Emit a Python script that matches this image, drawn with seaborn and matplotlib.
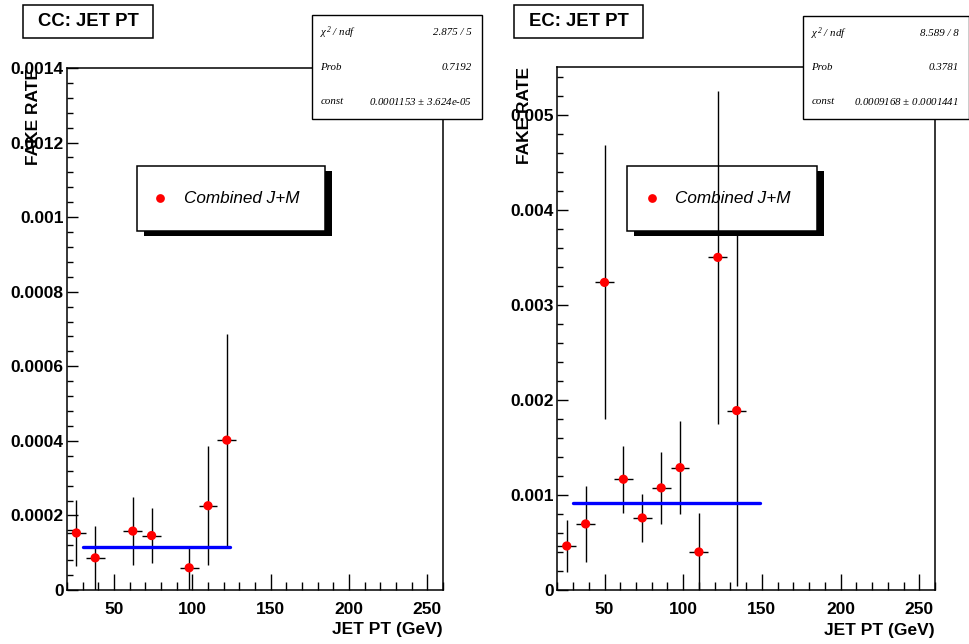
import numpy as np
import pandas as pd
import matplotlib
matplotlib.use("Agg")
import matplotlib.pyplot as plt
from matplotlib.patches import Rectangle
from matplotlib.lines import Line2D
from matplotlib.ticker import MultipleLocator, FuncFormatter
import seaborn as sns

# ---------------- data ----------------
cc_pt = [26, 38, 62, 74, 98, 110, 122]
cc_rate = [0.000153, 0.0000862, 0.000158, 0.000146, 0.0000596, 0.000226, 0.000402]
cc_err = [0.000088, 0.000085, 0.000091, 0.000073, 0.0000584, 0.000159, 0.000285]
cc_fit_const = 0.0001153
cc_fit_range = [30, 124]
cc_stats = [("$\\chi^{2}$ / ndf", "2.875 / 5"), ("Prob", "0.7192"),
            ("const", "0.0001153 $\\pm$ 3.624e-05")]

ec_pt = [26, 38, 50, 62, 74, 86, 98, 110, 122, 134]
ec_rate = [0.000466, 0.000698, 0.003238, 0.001168, 0.000761, 0.001077, 0.00129,
           0.000403, 0.003501, 0.00189]
ec_err = [0.00027, 0.0004, 0.00144, 0.00035, 0.00025, 0.00038, 0.00049,
          0.000407, 0.001747, 0.00185]
ec_fit_const = 0.0009168
ec_fit_range = [30, 149]
ec_stats = [("$\\chi^{2}$ / ndf", "8.589 / 8"), ("Prob", "0.3781"),
            ("const", "0.0009168 $\\pm$ 0.0001441")]

bin_half_width = 6
titles = ["CC: JET PT", "EC: JET PT"]
legend_label = "Combined J+M"
xlabel = "JET PT (GeV)"
ylabel = "FAKE RATE"

# ---------------- style ----------------
sns.set_style("white")
plt.rcParams["font.family"] = ["Liberation Sans", "DejaVu Sans"]
plt.rcParams["mathtext.fontset"] = "custom"
plt.rcParams["mathtext.it"] = "Liberation Serif:italic"
plt.rcParams["mathtext.rm"] = "Liberation Serif:italic"
for k in ["text.color", "axes.labelcolor", "xtick.color", "ytick.color",
          "axes.edgecolor"]:
    plt.rcParams[k] = "black"

W, H = 970, 644
fig = plt.figure(figsize=(W / 100, H / 100), dpi=100)
fig.patch.set_facecolor("white")


def fx(x):
    return x / W


def fy(y):
    return 1 - y / H


def pbox(x0, y0, x1, y1, **kw):
    return Rectangle((fx(x0), fy(y1)), fx(x1) - fx(x0), fy(y0) - fy(y1),
                     transform=fig.transFigure, **kw)


panels = [
    dict(pos=(67, 68, 443, 590), pt=cc_pt, rate=cc_rate, err=cc_err,
         const=cc_fit_const, frange=cc_fit_range, stats=cc_stats,
         ylim=0.0014, ymaj=0.0002, ymin=0.00004, title=titles[0],
         tbox=(23, 5, 153, 38), sbox=(311.7, 15, 481.7, 119.3),
         lbox=(136.7, 165.7, 325, 231), lmark=(160, 198.3), ltext=184,
         yfmt=lambda v, p: "0" if abs(v) < 1e-12 else f"{v:.4f}".rstrip("0")),
    dict(pos=(557.3, 67.3, 935, 590.3), pt=ec_pt, rate=ec_rate, err=ec_err,
         const=ec_fit_const, frange=ec_fit_range, stats=ec_stats,
         ylim=0.0055, ymaj=0.001, ymin=0.0002, title=titles[1],
         tbox=(514, 5, 643, 38), sbox=(802.7, 15.7, 968.5, 119.3),
         lbox=(627.3, 165.7, 816.7, 231), lmark=(651.7, 198.3), ltext=675,
         yfmt=lambda v, p: "0" if abs(v) < 1e-12 else f"{v:.3f}"),
]

for P in panels:
    x0, y0, x1, y1 = P["pos"]
    ax = fig.add_axes([fx(x0), fy(y1), fx(x1) - fx(x0), fy(y0) - fy(y1)])
    df = pd.DataFrame({"pt": P["pt"], "rate": P["rate"], "err": P["err"]})

    ax.errorbar(df["pt"], df["rate"], yerr=df["err"], xerr=bin_half_width,
                fmt="none", ecolor="black", elinewidth=1.0, capsize=0, zorder=2)
    sns.scatterplot(data=df, x="pt", y="rate", ax=ax, color="red", s=44,
                    edgecolor="none", linewidth=0, zorder=4, legend=False)
    fit = pd.DataFrame({"pt": P["frange"], "rate": [P["const"]] * 2})
    sns.lineplot(data=fit, x="pt", y="rate", ax=ax, color="#0000ff",
                 linewidth=2.4, zorder=3)

    ax.set_xlim(20, 260)
    ax.set_ylim(0, P["ylim"])
    ax.xaxis.set_major_locator(MultipleLocator(50))
    ax.xaxis.set_minor_locator(MultipleLocator(10))
    ax.yaxis.set_major_locator(MultipleLocator(P["ymaj"]))
    ax.yaxis.set_minor_locator(MultipleLocator(P["ymin"]))
    ax.yaxis.set_major_formatter(FuncFormatter(P["yfmt"]))
    ax.tick_params(axis="x", which="major", direction="in", length=11.5,
                   width=1.0, pad=8.5, labelsize=12.5, bottom=True, top=False,
                   color="black", labelcolor="black")
    ax.tick_params(axis="x", which="minor", direction="in", length=5.8,
                   width=1.0, bottom=True, top=False, color="black")
    ax.tick_params(axis="y", which="major", direction="in", length=8,
                   width=1.0, pad=2.5, labelsize=12.5, left=True, right=False,
                   color="black", labelcolor="black")
    ax.tick_params(axis="y", which="minor", direction="in", length=4,
                   width=1.0, left=True, right=False, color="black")
    for lab in ax.get_xticklabels() + ax.get_yticklabels():
        lab.set_fontweight("bold")
    for sp in ax.spines.values():
        sp.set_visible(True)
        sp.set_linewidth(1.1)
        sp.set_color("black")

    ax.set_xlabel(xlabel, fontsize=12.5, fontweight="bold", loc="right",
                  color="black")
    ax.xaxis.set_label_coords(1.0, -0.062)
    ax.set_ylabel(ylabel, fontsize=12.5, fontweight="bold", loc="top",
                  color="black")
    ax.yaxis.set_label_coords(-0.068, 1.0)

    # legend box (drawn beneath data)
    lx0, ly0, lx1, ly1 = P["lbox"]
    ax.add_patch(Rectangle((fx(lx0 + 7), fy(ly1 + 5)), fx(lx1 - lx0),
                           fy(ly0) - fy(ly1), transform=fig.transFigure,
                           facecolor="black", edgecolor="black", lw=0,
                           zorder=0.5, clip_on=False))
    ax.add_patch(Rectangle((fx(lx0), fy(ly1)), fx(lx1 - lx0), fy(ly0) - fy(ly1),
                           transform=fig.transFigure, facecolor="white",
                           edgecolor="black", lw=1.1, zorder=0.6, clip_on=False))
    ax.add_line(Line2D([fx(P["lmark"][0])], [fy(P["lmark"][1])], marker="o",
                       color="red", markersize=6.3, markeredgewidth=0,
                       transform=fig.transFigure, zorder=0.7, clip_on=False))
    ax.text(fx(P["ltext"]), fy(P["lmark"][1]), legend_label,
            transform=fig.transFigure, fontsize=12.3, fontstyle="italic",
            ha="left", va="center", zorder=0.7, clip_on=False, color="black")

    # title box
    tx0, ty0, tx1, ty1 = P["tbox"]
    fig.add_artist(pbox(tx0, ty0, tx1, ty1, facecolor="white",
                        edgecolor="black", lw=1.1))
    fig.text(fx((tx0 + tx1) / 2), fy((ty0 + ty1) / 2), P["title"],
             fontsize=13.3, fontweight="bold", ha="center", va="center",
             color="black")

    # stats box
    sx0, sy0, sx1, sy1 = P["sbox"]
    fig.add_artist(pbox(sx0, sy0, sx1, sy1, facecolor="white",
                        edgecolor="black", lw=1.0, zorder=3))
    rows_y = [sy0 + (sy1 - sy0) * f for f in (0.17, 0.5, 0.83)]
    for (name, val), ry in zip(P["stats"], rows_y):
        fig.text(fx(sx0 + 8.5), fy(ry), name, fontsize=7.8, style="italic",
                 family=["Liberation Serif", "DejaVu Serif"],
                 ha="left", va="center", zorder=4, color="black")
        fig.text(fx(sx1 - 9.5), fy(ry), val, fontsize=7.8, style="italic",
                 family=["Liberation Serif", "DejaVu Serif"],
                 ha="right", va="center", zorder=4, color="black")

fig.savefig("out.png", dpi=100, facecolor="white")
